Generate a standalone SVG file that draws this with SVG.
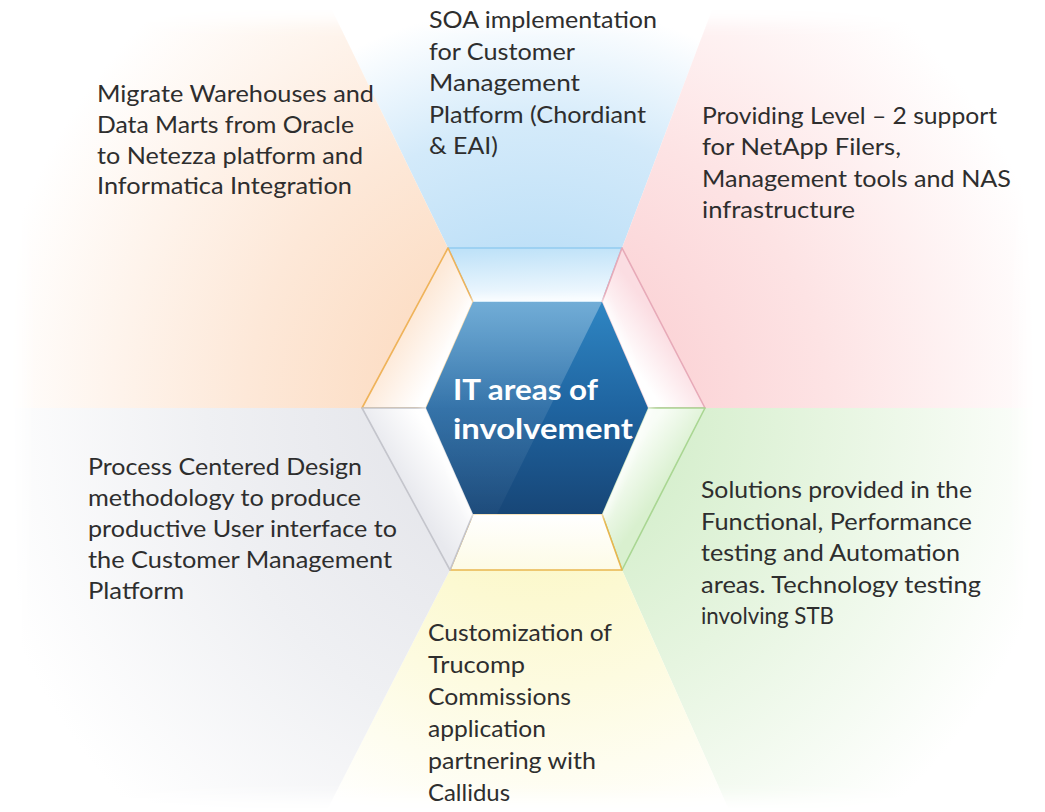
<svg xmlns="http://www.w3.org/2000/svg" width="1045" height="812" viewBox="0 0 1045 812">
<style>
.t{font-family:Lato,"Noto Sans","Liberation Sans",sans-serif;font-size:24px;fill:#2e2e2e}
.c{font-family:Lato,"Noto Sans","Liberation Sans",sans-serif;font-size:29px;font-weight:bold;fill:#ffffff}
.seg{stroke-width:1.6;stroke-linejoin:round}
</style>
<defs>
<radialGradient id="wBlue" gradientUnits="userSpaceOnUse" cx="537" cy="408" r="560"><stop offset="0.25" stop-color="#bcdff7"/><stop offset="0.5" stop-color="#d3eafa"/><stop offset="0.72" stop-color="#ffffff"/></radialGradient>
<radialGradient id="wOrange" gradientUnits="userSpaceOnUse" cx="537" cy="408" r="580"><stop offset="0.2" stop-color="#fcdcc2"/><stop offset="0.5" stop-color="#fde8d8"/><stop offset="0.95" stop-color="#ffffff"/></radialGradient>
<radialGradient id="wPink" gradientUnits="userSpaceOnUse" cx="537" cy="408" r="580"><stop offset="0.2" stop-color="#fbd2d5"/><stop offset="0.5" stop-color="#fde3e4"/><stop offset="0.92" stop-color="#ffffff"/></radialGradient>
<radialGradient id="wGreen" gradientUnits="userSpaceOnUse" cx="537" cy="408" r="580"><stop offset="0.2" stop-color="#d4eecb"/><stop offset="0.5" stop-color="#e6f5e0"/><stop offset="0.92" stop-color="#ffffff"/></radialGradient>
<radialGradient id="wYellow" gradientUnits="userSpaceOnUse" cx="537" cy="408" r="560"><stop offset="0.2" stop-color="#fbf7c4"/><stop offset="0.5" stop-color="#fdfbe0"/><stop offset="0.8" stop-color="#ffffff"/></radialGradient>
<radialGradient id="wGray" gradientUnits="userSpaceOnUse" cx="537" cy="408" r="600"><stop offset="0.2" stop-color="#e5e6eb"/><stop offset="0.55" stop-color="#eff0f3"/><stop offset="0.95" stop-color="#ffffff"/></radialGradient>
<linearGradient id="sTop" gradientUnits="userSpaceOnUse" x1="535" y1="248" x2="537" y2="302"><stop offset="0" stop-color="#bfe2f8"/><stop offset="1" stop-color="#f6fbff"/></linearGradient>
<linearGradient id="sUL" gradientUnits="userSpaceOnUse" x1="405" y1="328" x2="449" y2="355"><stop offset="0" stop-color="#fde9d8"/><stop offset="1" stop-color="#ffffff"/></linearGradient>
<linearGradient id="sUR" gradientUnits="userSpaceOnUse" x1="663" y1="328" x2="625" y2="355"><stop offset="0" stop-color="#fbdde2"/><stop offset="1" stop-color="#ffffff"/></linearGradient>
<linearGradient id="sLR" gradientUnits="userSpaceOnUse" x1="663" y1="489" x2="625" y2="461"><stop offset="0" stop-color="#d9f0cf"/><stop offset="1" stop-color="#f8fdf6"/></linearGradient>
<linearGradient id="sB" gradientUnits="userSpaceOnUse" x1="536" y1="570" x2="537" y2="514"><stop offset="0" stop-color="#fdfbe6"/><stop offset="1" stop-color="#ffffff"/></linearGradient>
<linearGradient id="sLL" gradientUnits="userSpaceOnUse" x1="406" y1="489" x2="449" y2="461"><stop offset="0" stop-color="#e8e9ee"/><stop offset="1" stop-color="#ffffff"/></linearGradient>
<linearGradient id="hexFill" x1="0" y1="0" x2="0" y2="1"><stop offset="0" stop-color="#2f86c3"/><stop offset="0.5" stop-color="#1f64a0"/><stop offset="1" stop-color="#174677"/></linearGradient>
<linearGradient id="gloss" gradientUnits="userSpaceOnUse" x1="0" y1="302" x2="0" y2="514"><stop offset="0" stop-color="#ffffff" stop-opacity="0.32"/><stop offset="0.5" stop-color="#ffffff" stop-opacity="0.1"/><stop offset="1" stop-color="#ffffff" stop-opacity="0.03"/></linearGradient>
<filter id="glow" x="-20%" y="-20%" width="140%" height="140%"><feGaussianBlur stdDeviation="4"/></filter>
<filter id="soft" x="-5%" y="-5%" width="110%" height="110%"><feGaussianBlur stdDeviation="8"/></filter>
<mask id="edgeMask" maskUnits="userSpaceOnUse" x="0" y="0" width="1045" height="812"><rect x="22" y="22" width="1001" height="776" fill="#ffffff" filter="url(#soft)"/></mask>
</defs>

<g id="background" mask="url(#edgeMask)">
<polygon points="448,248 622,248 712,10 332,10" fill="url(#wBlue)"/>
<polygon points="362,408 448,248 332,10 8,10 8,408" fill="url(#wOrange)"/>
<polygon points="622,248 705,408 1040,408 1040,10 712,10" fill="url(#wPink)"/>
<polygon points="705,408 622,570 728,808 1040,808 1040,408" fill="url(#wGreen)"/>
<polygon points="622,570 450,570 328,808 728,808" fill="url(#wYellow)"/>
<polygon points="450,570 362,408 8,408 8,808 328,808" fill="url(#wGray)"/>
</g>

<g id="connectors"></g>

<g id="node-top">
<polygon class="seg" points="448,248 622,248 602,302 473,302" fill="url(#sTop)" stroke="#93cbef"/>
<text class="t"><tspan x="429" y="28" textLength="228" lengthAdjust="spacingAndGlyphs">SOA implementation</tspan><tspan x="429" y="59.5" textLength="146" lengthAdjust="spacingAndGlyphs">for Customer</tspan><tspan x="429" y="91" textLength="151" lengthAdjust="spacingAndGlyphs">Management</tspan><tspan x="429" y="122.5" textLength="217" lengthAdjust="spacingAndGlyphs">Platform (Chordiant</tspan><tspan x="429" y="154" textLength="69" lengthAdjust="spacingAndGlyphs">&amp; EAI)</tspan></text>
</g>

<g id="node-upper-left">
<polygon class="seg" points="362,408 448,248 473,302 426,408" fill="url(#sUL)" stroke="#efb35a"/>
<text class="t"><tspan x="97" y="101.5" textLength="277" lengthAdjust="spacingAndGlyphs">Migrate Warehouses and</tspan><tspan x="97" y="132.5" textLength="257" lengthAdjust="spacingAndGlyphs">Data Marts from Oracle</tspan><tspan x="97" y="163.5" textLength="266" lengthAdjust="spacingAndGlyphs">to Netezza platform and</tspan><tspan x="97" y="194" textLength="255" lengthAdjust="spacingAndGlyphs">Informatica Integration</tspan></text>
</g>

<g id="node-upper-right">
<polygon class="seg" points="622,248 705,408 648,408 602,302" fill="url(#sUR)" stroke="#e7aab8"/>
<text class="t"><tspan x="702" y="123.5" textLength="295" lengthAdjust="spacingAndGlyphs">Providing Level – 2 support</tspan><tspan x="702" y="155" textLength="199" lengthAdjust="spacingAndGlyphs">for NetApp  Filers,</tspan><tspan x="702" y="186.5" textLength="309" lengthAdjust="spacingAndGlyphs">Management tools and NAS</tspan><tspan x="702" y="218" textLength="153" lengthAdjust="spacingAndGlyphs">infrastructure</tspan></text>
</g>

<g id="node-lower-right">
<polygon class="seg" points="705,408 622,570 602,514 648,408" fill="url(#sLR)" stroke="#a9d692"/>
<text class="t"><tspan x="701" y="498" textLength="271" lengthAdjust="spacingAndGlyphs">Solutions provided in the</tspan><tspan x="701" y="529.5" textLength="271" lengthAdjust="spacingAndGlyphs">Functional, Performance</tspan><tspan x="701" y="561" textLength="259" lengthAdjust="spacingAndGlyphs">testing and Automation</tspan><tspan x="701" y="592.5" textLength="280" lengthAdjust="spacingAndGlyphs">areas. Technology testing</tspan><tspan x="701" y="624" textLength="133" lengthAdjust="spacingAndGlyphs">involving STB</tspan></text>
</g>

<g id="node-bottom">
<polygon class="seg" points="622,570 450,570 473,514 602,514" fill="url(#sB)" stroke="#e9b64f"/>
<text class="t"><tspan x="428" y="641" textLength="184" lengthAdjust="spacingAndGlyphs">Customization of</tspan><tspan x="428" y="673" textLength="97" lengthAdjust="spacingAndGlyphs">Trucomp</tspan><tspan x="428" y="705" textLength="143" lengthAdjust="spacingAndGlyphs">Commissions</tspan><tspan x="428" y="737" textLength="118" lengthAdjust="spacingAndGlyphs">application</tspan><tspan x="428" y="769" textLength="168" lengthAdjust="spacingAndGlyphs">partnering with</tspan><tspan x="428" y="801" textLength="82" lengthAdjust="spacingAndGlyphs">Callidus</tspan></text>
</g>

<g id="node-lower-left">
<polygon class="seg" points="450,570 362,408 426,408 473,514" fill="url(#sLL)" stroke="#c4c5cc"/>
<text class="t"><tspan x="88" y="475" textLength="274" lengthAdjust="spacingAndGlyphs">Process Centered Design</tspan><tspan x="88" y="506" textLength="273" lengthAdjust="spacingAndGlyphs">methodology to produce</tspan><tspan x="88" y="537" textLength="309" lengthAdjust="spacingAndGlyphs">productive User interface to</tspan><tspan x="88" y="568" textLength="304" lengthAdjust="spacingAndGlyphs">the Customer Management</tspan><tspan x="88" y="599" textLength="96" lengthAdjust="spacingAndGlyphs">Platform</tspan></text>
</g>

<g id="node-center">
<polygon points="473,302 602,302 648,408 602,514 473,514 426,408" fill="none" stroke="#ffffff" stroke-width="6" filter="url(#glow)"/>
<polygon points="473,302 602,302 648,408 602,514 473,514 426,408" fill="url(#hexFill)"/>
<polygon points="473,302 602,302 497,514 473,514 426,408" fill="url(#gloss)"/>
<text class="c"><tspan x="453" y="400" textLength="145" lengthAdjust="spacingAndGlyphs">IT areas of</tspan><tspan x="453" y="439" textLength="180" lengthAdjust="spacingAndGlyphs">involvement</tspan></text>
</g>
</svg>
